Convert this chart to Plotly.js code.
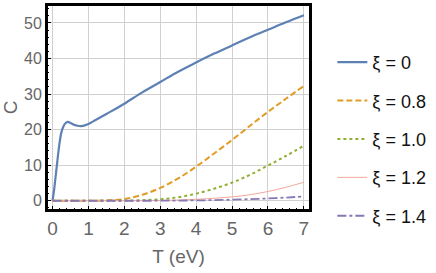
<!DOCTYPE html>
<html>
<head>
<meta charset="utf-8">
<script src="https://cdn.plot.ly/plotly-3.0.1.min.js"></script>
<style>html,body{margin:0;padding:0;background:#fff;}#chart{width:436px;height:273px;}</style>
</head>
<body>
<div id="chart"></div>
<script>
// ξ = 0 curve
const T0 = [0, 0.05, 0.1, 0.15, 0.2, 0.25, 0.3, 0.35, 0.42, 0.5, 0.6, 0.7, 0.8, 0.9, 1.0, 1.2, 1.5, 2, 2.5, 3, 3.5, 4, 4.5, 5, 5.5, 6, 6.5, 7];
const C_xi0 = [0, 3.5, 8, 12.5, 16.5, 19.3, 20.8, 21.7, 22.2, 21.9, 21.4, 21.1, 21.0, 21.2, 21.6, 22.7, 24.4, 27.3, 30.5, 33.4, 36.3, 38.9, 41.4, 43.7, 46.0, 48.1, 50.2, 52.2];
// other curves
const T = [0, 0.5, 1, 1.5, 2, 2.5, 3, 3.5, 4, 4.5, 5, 5.5, 6, 6.5, 7];
const C_xi08 = [0, 0, 0, 0.1, 0.5, 1.7, 3.6, 6.3, 9.6, 13.3, 17.1, 21.1, 25.0, 28.7, 32.3];
const C_xi10 = [0, 0, 0, 0, 0.05, 0.15, 0.4, 1.0, 2.0, 3.4, 5.1, 7.3, 9.9, 12.6, 15.5];
const C_xi12 = [0, 0, 0, 0, 0, 0.02, 0.08, 0.2, 0.4, 0.7, 1.1, 1.7, 2.6, 3.8, 5.2];
const C_xi14 = [0, 0, 0, 0, 0, 0, 0.02, 0.05, 0.1, 0.18, 0.3, 0.45, 0.65, 0.9, 1.2];
const names = ['ξ = 0', 'ξ = 0.8', 'ξ = 1.0', 'ξ = 1.2', 'ξ = 1.4'];

const traces = [
  {x: T0, y: C_xi0, name: names[0], line: {color: '#5E81B5', width: 2.2, shape: 'spline'}},
  {x: T, y: C_xi08, name: names[1], line: {color: '#E19C24', width: 2, dash: '6px,3px', shape: 'spline'}},
  {x: T, y: C_xi10, name: names[2], line: {color: '#8FB032', width: 2, dash: 'dot', shape: 'spline'}},
  {x: T, y: C_xi12, name: names[3], line: {color: '#F4A89A', width: 1, shape: 'spline'}},
  {x: T, y: C_xi14, name: names[4], line: {color: '#8778B3', width: 1.8, dash: 'dashdot', shape: 'spline'}}
].map((t, i) => Object.assign(t, {type: 'scatter', mode: 'lines', legendgroup: 'g' + i}));

const layout = {
  width: 436, height: 273,
  margin: {l: 47, r: 120, t: 5, b: 63},
  paper_bgcolor: '#fff', plot_bgcolor: '#fff',
  font: {family: 'Liberation Sans, Arial, sans-serif', color: '#666'},
  xaxis: {
    range: [-0.153, 7.17], tickvals: [0,1,2,3,4,5,6,7],
    showgrid: true, gridcolor: '#d0d0d0', gridwidth: 1, zeroline: false,
    showline: true, linecolor: '#000', linewidth: 2, mirror: true,
    ticks: 'inside', ticklen: 4, tickcolor: '#000', tickwidth: 1,
    minor: {dtick: 0.2, ticks: 'inside', ticklen: 2, tickcolor: '#000', showgrid: false},
    tickfont: {size: 19, color: '#666'},
    title: {text: 'T (eV)', font: {size: 19, color: '#666'}, standoff: 12}
  },
  yaxis: {
    range: [-2.6, 55.06], tickvals: [0,10,20,30,40,50],
    showgrid: true, gridcolor: '#d0d0d0', gridwidth: 1, zeroline: false,
    showline: true, linecolor: '#000', linewidth: 2, mirror: true,
    ticks: 'inside', ticklen: 4, tickcolor: '#000', tickwidth: 1,
    minor: {dtick: 2, ticks: 'inside', ticklen: 2, tickcolor: '#000', showgrid: false},
    tickfont: {size: 16, color: '#666'},
    title: {text: 'C', font: {size: 19, color: '#666'}, standoff: 4}
  },
  shapes: [{type: 'rect', xref: 'paper', yref: 'paper', x0: 0, x1: 1, y0: 0, y1: 1,
            line: {color: '#000', width: 2}, layer: 'above'}],
  legend: {
    x: 1.085, xanchor: 'left', y: 0.81, yanchor: 'top',
    font: {size: 18, color: '#111'}, tracegroupgap: 12, bgcolor: 'rgba(0,0,0,0)'
  },
  showlegend: true
};

Plotly.newPlot('chart', traces, layout, {staticPlot: true, displayModeBar: false});
</script>
</body>
</html>
